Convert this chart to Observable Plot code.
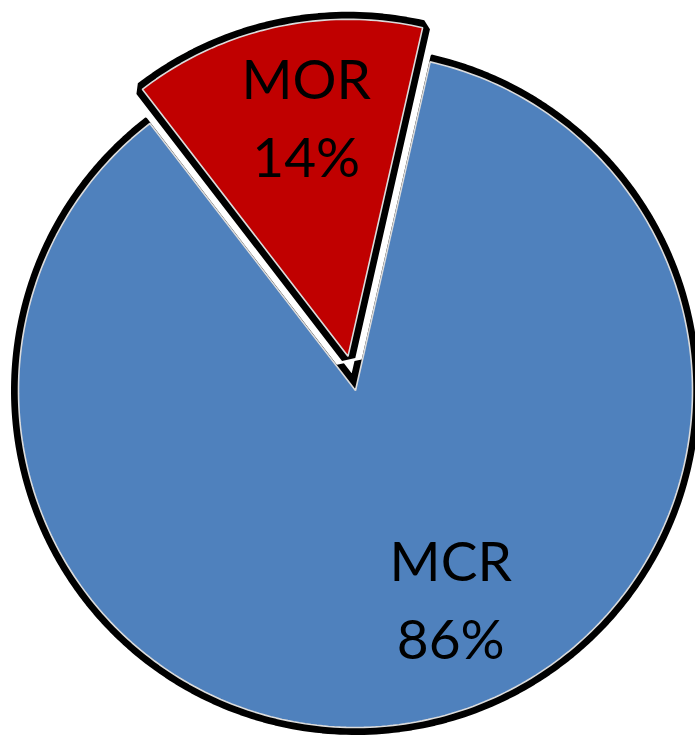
<!DOCTYPE html>
<html>
<head>
<meta charset="utf-8">
<script src="https://cdn.jsdelivr.net/npm/d3@7"></script>
<script src="https://cdn.jsdelivr.net/npm/@observablehq/plot@0.6"></script>
<style>
  html, body { margin: 0; padding: 0; background: #fff; }
  #chart svg { display: block; }
</style>
</head>
<body>
<div id="chart"></div>
<script>
// ---- data ----
const labels = ["MCR", "MOR"];
const values = [86, 14];
const colors = ["#4F81BD", "#C00000"];

// ---- layout ----
const W = 695, H = 738;
const CX = 355, CY = 390, R = 337;
const firstAngle = 12.8;           // degrees, clockwise from 12 o'clock
const explodeBy = { MCR: 0, MOR: 35 };
const labelNudge = { MCR: -11.4, MOR: 2.2 };
const labelRadius = 0.7 * R;

const rad = d => d * Math.PI / 180;
const total = d3.sum(values);
let acc = firstAngle;
const slices = labels.map((name, i) => {
  const a0 = acc;
  acc += values[i] / total * 360;
  const a1 = acc;
  const mid = (a0 + a1) / 2;
  const o = explodeBy[name];
  const cx = CX + o * Math.sin(rad(mid));
  const cy = CY - o * Math.cos(rad(mid));
  const pts = [{ name, x: cx, y: cy }];
  const n = Math.max(2, Math.ceil(a1 - a0));
  for (let k = 0; k <= n; k++) {
    const a = a0 + (a1 - a0) * k / n;
    pts.push({ name, x: cx + R * Math.sin(rad(a)), y: cy - R * Math.cos(rad(a)) });
  }
  const la = mid + labelNudge[name];
  return {
    name, value: values[i], color: colors[i], pts,
    lx: cx + labelRadius * Math.sin(rad(la)),
    ly: cy - labelRadius * Math.cos(rad(la)),
    text: `${name}\n${Math.round(values[i] / total * 100)}%`
  };
});

const byName = Object.fromEntries(slices.map(s => [s.name, s]));
const mcr = byName.MCR, mor = byName.MOR;

const poly = (s, opts) => Plot.line(s.pts, { x: "x", y: "y", curve: "linear-closed", strokeLinejoin: "miter", ...opts });

const chart = Plot.plot({
  width: W, height: H,
  margin: 0,
  x: { domain: [0, W], range: [0, W], axis: null },
  y: { domain: [0, H], range: [0, H], axis: null },
  marks: [
    poly(mcr, { fill: "black", stroke: "black", strokeWidth: 15 }),
    poly(mcr, { fill: mcr.color, stroke: "#dcdcdc", strokeWidth: 1.6 }),
    poly(mor, { fill: "white", stroke: "white", strokeWidth: 28 }),
    poly(mor, { fill: "black", stroke: "black", strokeWidth: 15 }),
    poly(mor, { fill: mor.color, stroke: "#dcdcdc", strokeWidth: 1.6 }),
    Plot.text(slices, {
      x: "lx", y: "ly", text: "text", dy: -11,
      fontSize: 55, lineHeight: 1.42, fill: "black",
      fontFamily: "Lato, 'Open Sans', sans-serif", textAnchor: "middle"
    })
  ]
});
document.getElementById("chart").appendChild(chart);
</script>
</body>
</html>
